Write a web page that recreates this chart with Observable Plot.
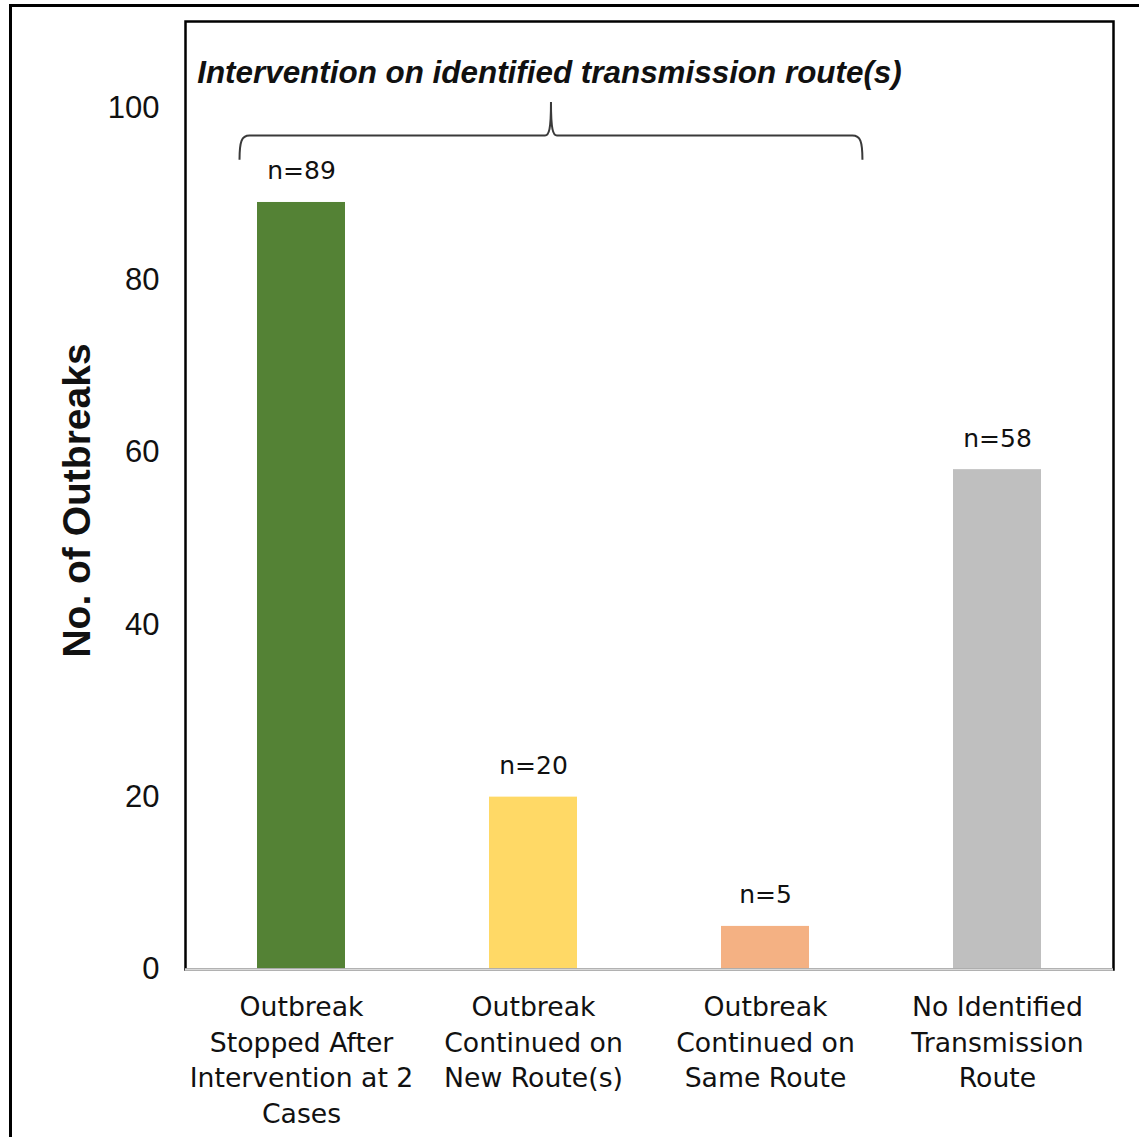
<!DOCTYPE html>
<html>
<head>
<meta charset="utf-8">
<script src="https://cdn.jsdelivr.net/npm/d3@7"></script>
<script src="https://cdn.jsdelivr.net/npm/@observablehq/plot@0.6"></script>
<style>
  html, body { margin: 0; padding: 0; background: #fff; overflow: hidden; }
  #wrap { position: relative; width: 1139px; height: 1137px; overflow: hidden; }
  #outer { position: absolute; left: 8.5px; top: 3.5px; width: 1150px; height: 1150px;
           border-left: 3px solid #000; border-top: 3px solid #000; box-sizing: border-box; }
  #chart { position: absolute; left: 0; top: 0; }
  #chart svg { display: block; }
</style>
</head>
<body>
<div id="wrap"><div id="outer"></div><div id="chart"></div></div>
<script>
// ---- data ----
const categories = [
  "Outbreak\nStopped After\nIntervention at 2\nCases",
  "Outbreak\nContinued on\nNew Route(s)",
  "Outbreak\nContinued on\nSame Route",
  "No Identified\nTransmission\nRoute"
];
const counts = [89, 20, 5, 58];
const countLabels = counts.map(v => "n=" + v);
const barColors = ["#548235", "#FFD966", "#F4B183", "#BFBFBF"];
const yTicks = [0, 20, 40, 60, 80, 100];
const yTitle = "No. of Outbreaks";
const annotationText = "Intervention on identified transmission route(s)";
// brace spans the first three categories
const braceCategories = [categories[0], categories[2]];

const data = categories.map((c, i) => ({category: c, count: counts[i], label: countLabels[i]}));

const plot = Plot.plot({
  width: 1139,
  height: 1137,
  marginLeft: 185,
  marginRight: 26,
  marginTop: 21,
  marginBottom: 168,
  style: {fontFamily: "DejaVu Sans", color: "#111", background: "transparent", overflow: "visible"},
  x: {domain: categories, paddingInner: 0.62, paddingOuter: 0.31, label: null},
  y: {domain: [0, 110], label: null},
  color: {domain: categories, range: barColors},
  marks: [
    Plot.barY(data, {x: "category", y: "count", fill: "category"}),
    Plot.frame({stroke: "#000", strokeWidth: 2.5}),
    Plot.ruleY([0], {stroke: "#d9d9d9", strokeWidth: 2.5}),
    Plot.text(data, {x: "category", y: "count", text: "label", dy: -31,
                     fontSize: 25, fontFamily: "DejaVu Sans", fill: "#111"}),
    Plot.axisY({ticks: yTicks, tickSize: 0, tickPadding: 26, fontSize: 31,
                fontFamily: "Liberation Sans", label: null}),
    Plot.axisX({tickSize: 0, tickPadding: 21, fontSize: 26.7, lineHeight: 1.337,
                fontFamily: "DejaVu Sans", label: null}),
    Plot.text([yTitle], {frameAnchor: "left", textAnchor: "middle", rotate: -90, dx: -108, dy: 5,
                         fontSize: 39, fontWeight: "bold", fontFamily: "Liberation Sans", fill: "#111"})
  ]
});

document.getElementById("chart").appendChild(plot);

// ---- brace annotation, positioned through the plot's scales ----
const sx = plot.scale("x"), sy = plot.scale("y");
const step = sx.step, bw = sx.bandwidth;
const center = c => sx.apply(c) + bw / 2;
const x0 = center(braceCategories[0]) - 0.265 * step;
const x1 = center(braceCategories[1]) + 0.42 * step;
const xm = (x0 + x1) / 2;
const yEnd = sy.apply(93.9), yLine = sy.apply(96.7), yPeak = sy.apply(100.6), yText = sy.apply(102.8);

const p = d3.path();
p.moveTo(x0, yEnd);
p.bezierCurveTo(x0, yLine + 6, x0 + 2, yLine, x0 + 10, yLine);
p.lineTo(xm - 6, yLine);
p.bezierCurveTo(xm - 2, yLine, xm, yLine - 6, xm, yPeak);
p.bezierCurveTo(xm, yLine - 6, xm + 2, yLine, xm + 6, yLine);
p.lineTo(x1 - 10, yLine);
p.bezierCurveTo(x1 - 2, yLine, x1, yLine + 6, x1, yEnd);

const svg = d3.select(plot);
svg.append("path").attr("d", p.toString())
  .attr("fill", "none").attr("stroke", "#3a3a3a").attr("stroke-width", 2);
svg.append("text")
  .attr("x", xm - 1.5).attr("y", yText)
  .attr("text-anchor", "middle")
  .attr("font-family", "Liberation Sans")
  .attr("font-size", 31.4)
  .attr("font-style", "italic")
  .attr("font-weight", "bold")
  .attr("fill", "#111")
  .text(annotationText);
</script>
</body>
</html>
